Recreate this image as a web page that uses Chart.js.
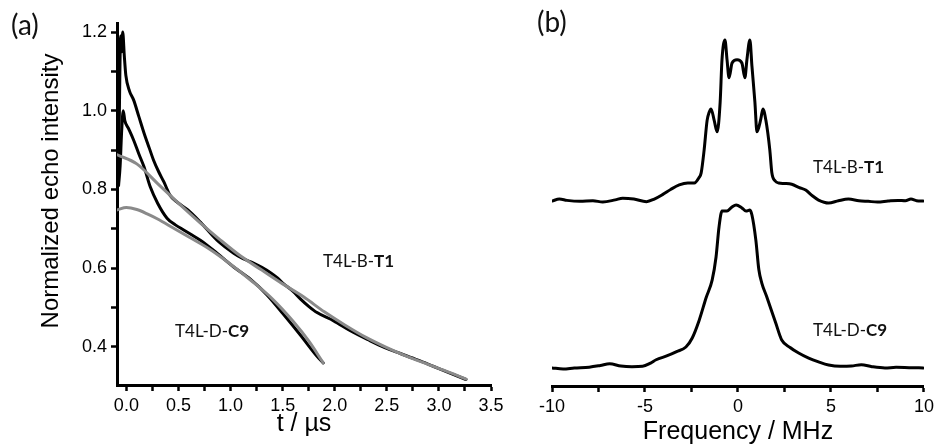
<!DOCTYPE html>
<html>
<head>
<meta charset="utf-8">
<script src="https://cdn.jsdelivr.net/npm/chart.js@4/dist/chart.umd.min.js"></script>
<style>
  body { margin: 0; background: #fff; }
  #wrap { position: relative; width: 938px; height: 446px; overflow: hidden; }
  canvas { position: absolute; top: 0; }
  #cA { left: 0; }
  #cB { left: 500px; }
  .lbl { position: absolute; font-family: Lato, "Open Sans", sans-serif; color: #111; line-height: 1; white-space: nowrap; }
  .smp { font-size: 17px; }
  .pan { font-size: 28px; }
  #ytitle { position: absolute; left: 50px; top: 191px; font-family: "Liberation Sans", Arial, sans-serif; font-size: 24px; line-height: 1;
            white-space: nowrap; transform: translate(-50%, -50%) rotate(-90deg); color: #000; }
</style>
</head>
<body>
<div id="wrap">
  <canvas id="cA" width="510" height="446"></canvas>
  <canvas id="cB" width="438" height="446"></canvas>
  <div class="lbl pan" style="left:11px; top:10px;">(a)</div>
  <div class="lbl pan" style="left:537px; top:7px;">(b)</div>
  <div id="ytitle">Normalized echo intensity</div>
  <div class="lbl smp" style="left:323px; top:252px;">T4L-B-<b>T1</b></div>
  <div class="lbl smp" style="left:175px; top:322px;">T4L-D-<b>C9</b></div>
  <div class="lbl smp" style="left:813px; top:158px;">T4L-B-<b>T1</b></div>
  <div class="lbl smp" style="left:813px; top:321px;">T4L-D-<b>C9</b></div>
</div>
<script>
// (a) echo decays, t in microseconds
const tT1 = [-0.085, -0.07, -0.055, -0.045, -0.035, -0.02, -0.005, 0.03, 0.07, 0.12, 0.17, 0.22, 0.26, 0.31, 0.36, 0.42, 0.49, 0.59, 0.71, 0.87, 1.03, 1.12, 1.22, 1.3, 1.38, 1.45, 1.51, 1.6, 1.67, 1.75, 1.83, 1.99, 2.15, 2.32, 2.48, 2.63, 2.8, 2.95, 3.1, 3.26];
const echoT1 = [0.81, 0.95, 1.19, 1.15, 1.2, 1.14, 1.09, 1.05, 1.027, 0.985, 0.943, 0.905, 0.875, 0.845, 0.819, 0.785, 0.767, 0.748, 0.717, 0.671, 0.638, 0.624, 0.613, 0.602, 0.589, 0.575, 0.56, 0.541, 0.522, 0.503, 0.487, 0.466, 0.441, 0.418, 0.398, 0.383, 0.366, 0.35, 0.334, 0.317];
const tC9 = [-0.075, -0.06, -0.045, -0.03, -0.015, 0.02, 0.07, 0.12, 0.17, 0.23, 0.3, 0.39, 0.47, 0.55, 0.63, 0.71, 0.87, 1.03, 1.19, 1.35, 1.51, 1.67, 1.83, 1.89];
const echoC9 = [0.81, 0.86, 0.95, 1.0, 0.975, 0.955, 0.925, 0.89, 0.857, 0.806, 0.765, 0.727, 0.71, 0.697, 0.684, 0.671, 0.638, 0.603, 0.572, 0.532, 0.482, 0.43, 0.376, 0.359];
const tFitT1 = [-0.087, 0.1, 0.3, 0.5, 0.7, 0.9, 1.1, 1.3, 1.5, 1.7, 1.9, 2.1, 2.3, 2.5, 2.7, 2.9, 3.1, 3.26];
const fitT1 = [0.888, 0.865, 0.815, 0.765, 0.717, 0.672, 0.630, 0.595, 0.560, 0.527, 0.489, 0.455, 0.424, 0.398, 0.375, 0.355, 0.335, 0.318];
const tFitC9 = [-0.087, 0.0, 0.1, 0.2, 0.3, 0.45, 0.6, 0.8, 1.0, 1.2, 1.4, 1.6, 1.75, 1.89];
const fitC9 = [0.748, 0.754, 0.749, 0.738, 0.725, 0.702, 0.679, 0.648, 0.610, 0.568, 0.522, 0.465, 0.415, 0.359];

// (b) spectra, frequency in MHz (T1 trace sits above C9)
const fT1 = [-10, -9.6, -9.2, -8.5, -7.8, -7.27, -6.6, -6.2, -5.6, -4.92, -4.5, -4.06, -3.6, -3.16, -2.7, -2.35, -2.1, -1.98, -1.82, -1.66, -1.55, -1.45, -1.28, -1.12, -0.96, -0.86, -0.7, -0.59, -0.48, -0.32, -0.05, 0.21, 0.37, 0.48, 0.64, 0.75, 0.91, 1.02, 1.23, 1.34, 1.5, 1.71, 1.82, 2.0, 2.19, 2.5, 2.89, 3.3, 3.64, 4.0, 4.33, 4.87, 5.4, 5.94, 6.5, 7.0, 7.5, 8.07, 8.6, 9.0, 9.3, 9.6, 9.95];
const specT1 = [1.018, 1.03, 1.022, 1.016, 1.02, 1.012, 1.025, 1.035, 1.03, 1.014, 1.03, 1.057, 1.09, 1.116, 1.128, 1.128, 1.16, 1.19, 1.33, 1.51, 1.56, 1.58, 1.51, 1.44, 1.62, 1.88, 2.0, 1.88, 1.77, 1.86, 1.88, 1.86, 1.77, 1.88, 2.0, 1.84, 1.62, 1.44, 1.52, 1.58, 1.51, 1.33, 1.19, 1.14, 1.128, 1.125, 1.12, 1.10, 1.085, 1.05, 1.024, 1.006, 1.02, 1.03, 1.02, 1.016, 1.012, 1.018, 1.022, 1.02, 1.03, 1.02, 1.018];
const fC9 = [-10, -9.4, -8.8, -8.0, -7.4, -6.9, -6.3, -5.7, -5.13, -4.7, -4.4, -3.8, -3.3, -2.8, -2.46, -2.09, -1.71, -1.39, -1.18, -1.02, -0.86, -0.59, -0.32, -0.1, 0.21, 0.43, 0.64, 0.75, 0.96, 1.12, 1.28, 1.55, 2.03, 2.35, 2.8, 3.26, 3.8, 4.33, 4.87, 5.5, 6.1, 6.63, 7.2, 7.9, 8.5, 9.2, 9.95];
const specC9 = [0.0, -0.006, 0.0, 0.005, 0.015, 0.025, 0.012, 0.008, 0.01, 0.03, 0.05, 0.075, 0.1, 0.128, 0.183, 0.29, 0.43, 0.536, 0.677, 0.86, 0.957, 0.957, 0.982, 0.994, 0.976, 0.957, 0.963, 0.933, 0.78, 0.6, 0.518, 0.433, 0.274, 0.171, 0.125, 0.091, 0.06, 0.037, 0.018, 0.01, 0.012, 0.02, 0.008, 0.0, 0.004, 0.002, 0.0];

const FONT = "'Liberation Sans', Arial, sans-serif";

function pts(xs, ys) {
  return xs.map((x, i) => ({ x: x, y: ys[i] }));
}

function line(xs, ys, color, order) {
  return {
    data: pts(xs, ys), borderColor: color, borderWidth: 3, pointRadius: 0,
    cubicInterpolationMode: 'monotone', fill: false, order: order,
    borderJoinStyle: 'round', borderCapStyle: 'round'
  };
}

const axisGrid = { drawOnChartArea: false, drawTicks: true, tickLength: 6, tickWidth: 2.5, tickColor: '#000' };
const axisBorder = { display: true, color: '#000', width: 3 };

new Chart(document.getElementById('cA'), {
  type: 'line',
  data: {
    datasets: [
      line(tT1, echoT1, '#000', 2),
      line(tC9, echoC9, '#000', 2),
      line(tFitT1, fitT1, '#8a8a8a', 1),
      line(tFitC9, fitC9, '#8a8a8a', 1)
    ]
  },
  options: {
    responsive: false, animation: false,
    layout: { padding: { left: 0, right: 19, top: 23, bottom: 0 } },
    plugins: { legend: { display: false }, tooltip: { enabled: false } },
    scales: {
      x: {
        type: 'linear', min: -0.09, max: 3.5,
        grid: axisGrid, border: axisBorder,
        afterFit: s => { s.height = 61; },
        ticks: {
          stepSize: 0.25, includeBounds: false, autoSkip: false, maxRotation: 0, padding: 4,
          color: '#000', font: { family: FONT, size: 18 },
          callback: v => Math.abs(v * 2 - Math.round(v * 2)) < 1e-6 ? v.toFixed(1) : ''
        },
        title: { display: true, text: 't / µs', color: '#000', font: { family: FONT, size: 25, lineHeight: 1 }, padding: { top: 0, bottom: 9 } }
      },
      y: {
        type: 'linear', min: 0.303, max: 1.223,
        grid: axisGrid, border: axisBorder,
        afterFit: s => { s.width = 117; },
        ticks: {
          stepSize: 0.1, includeBounds: false, autoSkip: false, padding: 4,
          color: '#000', font: { family: FONT, size: 18 },
          callback: v => Math.round(v * 10) % 2 === 0 ? v.toFixed(1) : ''
        }
      }
    }
  }
});

new Chart(document.getElementById('cB'), {
  type: 'line',
  data: {
    datasets: [
      line(fT1, specT1, '#000', 1),
      line(fC9, specC9, '#000', 1)
    ]
  },
  options: {
    responsive: false, animation: false,
    layout: { padding: { left: 52, right: 12, top: 10, bottom: 0 } },
    plugins: { legend: { display: false }, tooltip: { enabled: false } },
    scales: {
      x: {
        type: 'linear', min: -10, max: 10,
        grid: axisGrid, border: axisBorder,
        afterFit: s => { s.height = 60; },
        ticks: {
          stepSize: 2.5, includeBounds: false, autoSkip: false, maxRotation: 0, padding: 4,
          color: '#000', font: { family: FONT, size: 18 },
          callback: v => v % 5 === 0 ? String(v) : ''
        },
        title: { display: true, text: 'Frequency / MHz', color: '#000', font: { family: FONT, size: 25, lineHeight: 1 }, padding: { top: 0, bottom: 1 } }
      },
      y: { type: 'linear', display: false, min: -0.11, max: 2.183 }
    }
  }
});
</script>
</body>
</html>
